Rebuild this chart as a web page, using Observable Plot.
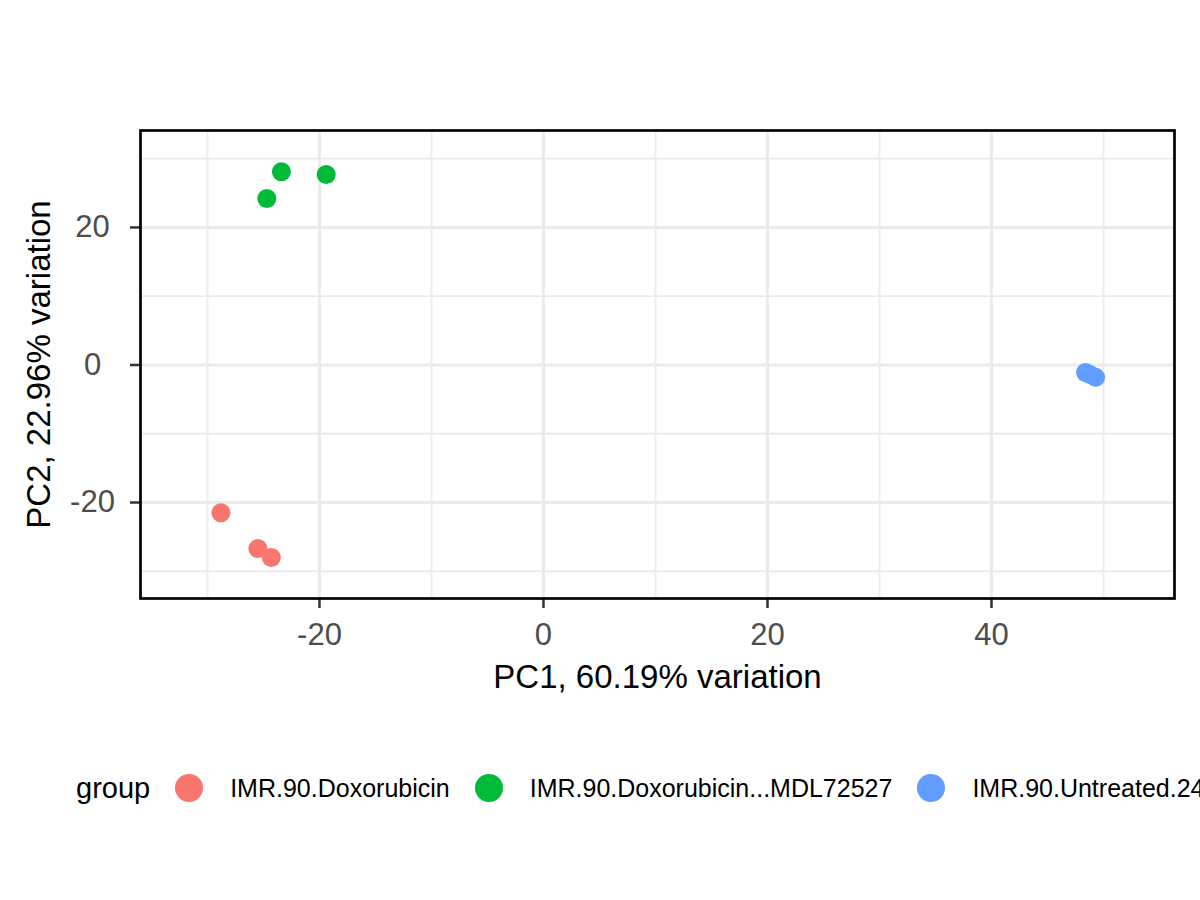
<!DOCTYPE html>
<html>
<head>
<meta charset="utf-8">
<script src="https://cdn.jsdelivr.net/npm/d3@7"></script>
<script src="https://cdn.jsdelivr.net/npm/@observablehq/plot@0.6"></script>
<style>
  html, body { margin: 0; padding: 0; background: #fff; overflow: hidden; }
  #wrap { position: relative; width: 1200px; height: 900px; font-family: "Liberation Sans", Arial, sans-serif; }
  #legend { position: absolute; left: 76px; top: 768px; height: 40px; display: flex; align-items: center; white-space: nowrap; color: #000; }
  #legend .title { font-size: 29px; }
  #legend .sw { width: 28px; height: 28px; border-radius: 50%; margin-left: 25px; flex: none; }
  #legend .lab { font-size: 25px; margin-left: 27px; }
</style>
</head>
<body>
<div id="wrap"><div id="chart"></div><div id="legend"></div></div>
<script>
const groups = ["IMR.90.Doxorubicin", "IMR.90.Doxorubicin...MDL72527", "IMR.90.Untreated.24"];
const colors = ["#F8766D", "#00BA38", "#619CFF"];
const sampleGroup = ["IMR.90.Doxorubicin", "IMR.90.Doxorubicin", "IMR.90.Doxorubicin",
  "IMR.90.Doxorubicin...MDL72527", "IMR.90.Doxorubicin...MDL72527", "IMR.90.Doxorubicin...MDL72527",
  "IMR.90.Untreated.24", "IMR.90.Untreated.24", "IMR.90.Untreated.24"];
const pc1 = [-28.8, -25.5, -24.3, -23.4, -19.4, -24.7, 48.4, 48.8, 49.3];
const pc2 = [-21.5, -26.7, -28.0, 28.1, 27.7, 24.2, -1.1, -1.4, -1.8];
const xTicks = [-20, 0, 20, 40];
const yTicks = [-20, 0, 20];
const xMinor = [-30, -10, 10, 30, 50];
const yMinor = [-30, -10, 10, 30];
const xDomain = [-35.98, 56.34];
const yDomain = [-33.96, 34.1];
const xTitle = "PC1, 60.19% variation";
const yTitle = "PC2, 22.96% variation";
const legendTitle = "group";

const data = pc1.map((x, i) => ({x, y: pc2[i], group: sampleGroup[i]}));

const chart = Plot.plot({
  width: 1200,
  height: 720,
  marginLeft: 140,
  marginRight: 26,
  marginTop: 130,
  marginBottom: 122,
  style: {fontFamily: "'Liberation Sans', Arial, sans-serif", background: "#fff"},
  x: {domain: xDomain},
  y: {domain: yDomain},
  color: {domain: groups, range: colors},
  marks: [
    Plot.gridX(xMinor, {stroke: "#ebebeb", strokeOpacity: 1, strokeWidth: 1.8}),
    Plot.gridY(yMinor, {stroke: "#ebebeb", strokeOpacity: 1, strokeWidth: 1.8}),
    Plot.gridX(xTicks, {stroke: "#ebebeb", strokeOpacity: 1, strokeWidth: 3}),
    Plot.gridY(yTicks, {stroke: "#ebebeb", strokeOpacity: 1, strokeWidth: 3}),
    Plot.axisX({ticks: xTicks, tickSize: 10, fill: "none", stroke: "#333", strokeWidth: 2.5, label: null}),
    Plot.axisY({ticks: yTicks, tickSize: 10, fill: "none", stroke: "#333", strokeWidth: 2.5, label: null}),
    Plot.text(xTicks, {x: d => d, frameAnchor: "bottom", dy: 46, fontSize: 31, fill: "#4d4d4d", text: d => String(d)}),
    Plot.text(yTicks, {y: d => d, frameAnchor: "left", dx: -48, textAnchor: "middle", fontSize: 31, fill: "#4d4d4d", text: d => String(d)}),
    Plot.text([xTitle], {frameAnchor: "bottom", dy: 89, fontSize: 33, fill: "#000", text: d => d}),
    Plot.text([yTitle], {frameAnchor: "left", dx: -101, rotate: -90, textAnchor: "middle", fontSize: 33, fill: "#000", text: d => d}),
    Plot.frame({stroke: "#000", strokeWidth: 2.7}),
    Plot.dot(data, {x: "x", y: "y", fill: "group", r: 9.5, stroke: "none"})
  ]
});
document.getElementById("chart").appendChild(chart);

const legend = document.getElementById("legend");
const t = document.createElement("span");
t.className = "title"; t.textContent = legendTitle; legend.appendChild(t);
groups.forEach((g, i) => {
  const sw = document.createElement("span");
  sw.className = "sw"; sw.style.background = colors[i]; legend.appendChild(sw);
  const lab = document.createElement("span");
  lab.className = "lab"; lab.textContent = g; legend.appendChild(lab);
});
</script>
</body>
</html>
